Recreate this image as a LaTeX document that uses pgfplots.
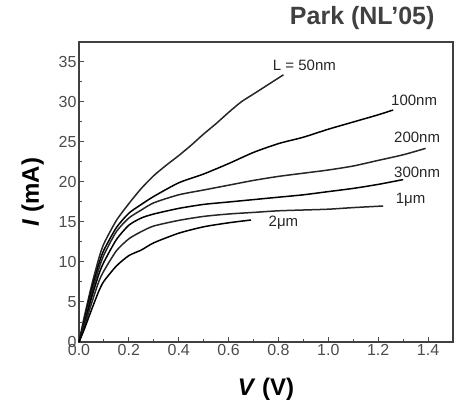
\documentclass[border=0pt]{standalone}
\usepackage{pgfplots}
\pgfplotsset{compat=1.18}
\usepackage{fontspec}
\setmainfont{Liberation Sans}
\begin{document}
\begin{tikzpicture}
\begin{axis}[
  scale only axis, width=374pt, height=300pt,
  xmin=0, xmax=1.5, ymin=0, ymax=37.5,
  xtick={0,0.2,...,1.4}, ytick={0,5,...,35},
  minor x tick num=1, minor y tick num=1,
  xticklabel style={/pgf/number format/fixed,/pgf/number format/fixed zerofill,/pgf/number format/precision=1},
  xtick pos=left, ytick pos=left, tick align=inside,
  major tick length=5pt, minor tick length=3pt,
  tick style={black!70, line width=1pt},
  axis line style={black!75, line width=1.4pt},
  /pgf/number format/assume math mode=true,
  ticklabel style={font=\fontsize{16}{18}\selectfont, text=black!70},
  xticklabel style={yshift=1pt},
  yticklabel style={xshift=1pt},
  xlabel={\textbf{\textit{V} (V)}},
  ylabel={\textbf{\textit{I} (mA)}},
  label style={font=\fontsize{24}{26}\selectfont},
  xlabel style={yshift=-15pt},
  ylabel style={yshift=8pt},
  cycle list={{black!85, solid}},
  every axis plot/.append style={line width=1.5pt, no marks, smooth, tension=0.4},
  clip=false,
]
\addplot coordinates {(0,0)(0.02,3)(0.05,7)(0.08,10.5)(0.1,12.3)(0.15,15.2)(0.2,17.3)(0.25,19.2)(0.3,20.8)(0.35,22.1)(0.4,23.3)(0.45,24.6)(0.5,26)(0.55,27.3)(0.6,28.7)(0.65,30.0)(0.7,31.0)(0.75,32.0)(0.8,33)(0.82,33.4)};
\addplot coordinates {(0,0)(0.02,2.5)(0.05,6.5)(0.08,9.8)(0.1,11.5)(0.15,14.3)(0.2,16.1)(0.25,17.2)(0.3,18.2)(0.4,19.9)(0.5,21)(0.6,22.3)(0.7,23.7)(0.8,24.8)(0.9,25.6)(1.0,26.6)(1.1,27.5)(1.2,28.4)(1.26,29)};
\addplot coordinates {(0,0)(0.02,2.3)(0.05,6)(0.08,9.2)(0.1,10.9)(0.15,13.8)(0.2,15.5)(0.25,16.5)(0.3,17.4)(0.4,18.4)(0.5,19)(0.6,19.6)(0.7,20.2)(0.8,20.7)(0.9,21.1)(1.0,21.5)(1.1,22)(1.2,22.7)(1.3,23.4)(1.39,24.2)};
\addplot coordinates {(0,0)(0.02,2)(0.05,5.5)(0.08,8.5)(0.1,10)(0.15,12.8)(0.2,14.6)(0.25,15.5)(0.3,16)(0.4,16.7)(0.5,17.2)(0.6,17.5)(0.7,17.8)(0.8,18.1)(0.9,18.4)(1.0,18.8)(1.1,19.2)(1.2,19.7)(1.3,20.3)};
\addplot coordinates {(0,0)(0.02,1.8)(0.05,4.8)(0.08,7.6)(0.1,8.9)(0.15,11.4)(0.2,12.9)(0.25,13.8)(0.3,14.5)(0.4,15.2)(0.5,15.7)(0.6,16)(0.7,16.2)(0.8,16.4)(0.9,16.5)(1.0,16.6)(1.1,16.8)(1.22,17)};
\addplot coordinates {(0,0)(0.02,1.5)(0.05,4)(0.08,6.4)(0.1,7.6)(0.15,9.5)(0.2,10.8)(0.25,11.5)(0.3,12.4)(0.4,13.6)(0.5,14.4)(0.6,14.9)(0.69,15.25)};
\begin{scope}[every node/.style={font=\fontsize{15}{17}\selectfont, text=black!85}]
\node at (axis cs:0.904,34.6) {L = 50nm};
\node at (axis cs:1.344,30.25) {100nm};
\node at (axis cs:1.356,25.6) {200nm};
\node at (axis cs:1.356,21.25) {300nm};
\node at (axis cs:1.33,17.75) {1μm};
\node at (axis cs:0.82,14.9) {2μm};
\end{scope}
\node[anchor=east, font=\fontsize{25}{27}\selectfont\bfseries, text=black!75] at ([xshift=-15pt,yshift=24pt]rel axis cs:1,1) {Park (NL’05)};
\end{axis}
\pgfresetboundingbox
\path (current axis.south west) ++(-79pt,-59pt) rectangle ++(457pt,401pt);
\end{tikzpicture}
\end{document}
